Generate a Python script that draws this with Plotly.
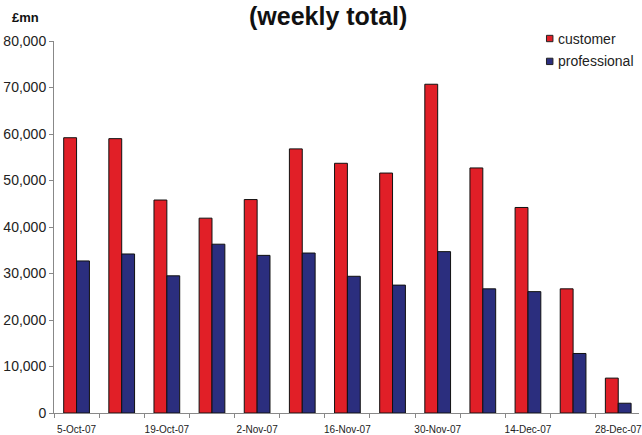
import plotly.graph_objects as go

# Weekly totals, £mn
weeks = ["5-Oct-07", "12-Oct-07", "19-Oct-07", "26-Oct-07", "2-Nov-07", "9-Nov-07",
         "16-Nov-07", "23-Nov-07", "30-Nov-07", "7-Dec-07", "14-Dec-07", "21-Dec-07",
         "28-Dec-07"]
customer = [59200, 59000, 45800, 41900, 45900, 56800, 53700, 51600, 70700, 52700,
            44200, 26700, 7500]
professional = [32700, 34200, 29500, 36300, 33900, 34400, 29400, 27500, 34700, 26700,
                26100, 12800, 2100]
y_ticks = [0, 10000, 20000, 30000, 40000, 50000, 60000, 70000, 80000]

RED = "#E11F27"
BLUE = "#2B2E7E"
FONT = "Liberation Sans, Arial, sans-serif"

idx = list(range(len(weeks)))

fig = go.Figure()
fig.add_trace(go.Bar(x=idx, y=customer, name="customer", marker_color=RED,
                     marker_line=dict(color="#111111", width=1), showlegend=False))
fig.add_trace(go.Bar(x=idx, y=professional, name="professional", marker_color=BLUE,
                     marker_line=dict(color="#111111", width=1), showlegend=False))

fig.update_layout(
    width=642, height=435,
    margin=dict(l=54, r=0, t=41, b=20),
    paper_bgcolor="white", plot_bgcolor="white",
    barmode="group", bargap=0.43, bargroupgap=0,
    font=dict(family=FONT, color="#222222"),
    xaxis=dict(
        range=[-0.5, 12.46],
        tickvals=idx[::2], ticktext=weeks[::2],
        ticks="outside", ticklen=7, tickcolor="rgba(0,0,0,0)",
        tickfont=dict(size=10, color="#222222"),
        ticklabeloverflow="allow",
        showline=True, linecolor="#888888", linewidth=1,
        showgrid=False, zeroline=False,
        minor=dict(tick0=-0.5, dtick=1, ticks="outside", ticklen=4,
                   tickcolor="#888888", showgrid=False),
    ),
    yaxis=dict(
        range=[0, 80000], tickvals=y_ticks, tickformat=",",
        ticks="outside", ticklen=4, tickcolor="#888888",
        tickfont=dict(size=14, color="#222222"),
        showline=True, linecolor="#888888", linewidth=1,
        showgrid=False, zeroline=False,
    ),
)

# Title and unit label
fig.add_annotation(text="<b>(weekly total)</b>", xref="paper", yref="paper",
                   x=0.468, y=(415 - 0.5) / 374, xanchor="center", yanchor="top",
                   borderpad=0,
                   showarrow=False, font=dict(size=25, family=FONT, color="#111111"))
fig.add_annotation(text="<b>£mn</b>", xref="paper", yref="paper",
                   x=-0.075, y=1.062, xanchor="left", yanchor="middle",
                   showarrow=False, font=dict(size=13, family=FONT, color="#111111"))

# Legend: small swatches with labels
legend_items = [("customer", RED), ("professional", BLUE)]
for i, (label, color) in enumerate(legend_items):
    cy = 38.5 + 23 * i
    fig.add_shape(type="rect", xref="paper", yref="paper",
                  x0=(549 - 54) / 588, x1=(555.5 - 54) / 588,
                  y0=(415 - cy - 3.2) / 374, y1=(415 - cy + 3.2) / 374,
                  fillcolor=color, line=dict(color="#222222", width=1))
    fig.add_annotation(text=label, xref="paper", yref="paper",
                       x=(559 - 54) / 588, y=(415 - cy) / 374,
                       xanchor="left", yanchor="middle", showarrow=False,
                       font=dict(size=14, family=FONT, color="#222222"))

fig.write_html("out.html")
